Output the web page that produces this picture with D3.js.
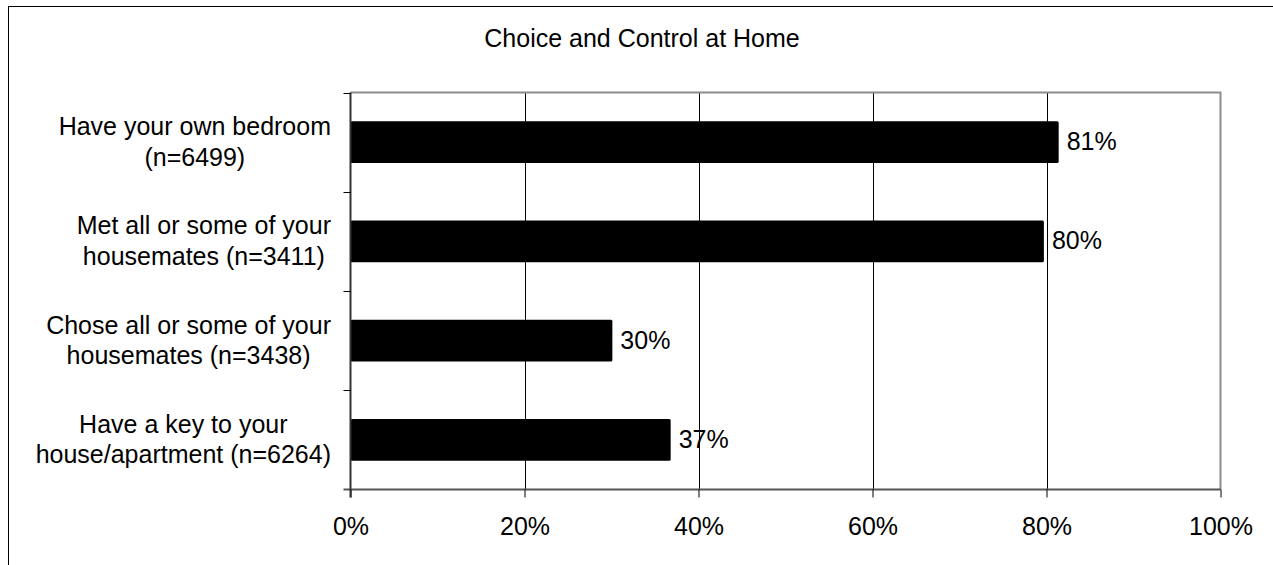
<!DOCTYPE html>
<html>
<head>
<meta charset="utf-8">
<script src="https://cdn.jsdelivr.net/npm/d3@7"></script>
<style>
  html, body { margin: 0; padding: 0; background: #fff; }
  svg { display: block; font-family: "Liberation Sans", Arial, sans-serif; }
</style>
</head>
<body>
<svg id="chart" width="1273" height="565"></svg>
<script>
const title = "Choice and Control at Home";
const categories = [
  ["Have your own bedroom", "(n=6499)"],
  ["Met all or some of your", "housemates (n=3411)"],
  ["Chose all or some of your", "housemates (n=3438)"],
  ["Have a key to your", "house/apartment (n=6264)"]
];
const values = [81.4, 79.7, 30.1, 36.8];
const xTicks = [0, 20, 40, 60, 80, 100];

const svg = d3.select("#chart");
const fontSize = 25;

const plot = { left: 350.5, right: 1220.5, top: 92.5, bottom: 489.5 };

// outer frame
svg.append("rect")
  .attr("x", 8.5).attr("y", 6.5)
  .attr("width", 1400).attr("height", 700)
  .attr("fill", "none").attr("stroke", "#000").attr("stroke-width", 1);

// title
svg.append("text")
  .attr("x", 642).attr("y", 47)
  .attr("text-anchor", "middle")
  .attr("font-size", fontSize)
  .attr("fill", "#000")
  .text(title);

const x = d3.scaleLinear().domain([0, 100]).range([plot.left, plot.right]);
const y = d3.scaleBand().domain(d3.range(categories.length))
  .range([plot.top, plot.bottom]).padding(0);

// gridlines
svg.append("g").selectAll("line")
  .data(xTicks.filter(t => t > 0 && t < 100))
  .join("line")
  .attr("x1", d => Math.round(x(d)) + 0.5).attr("x2", d => Math.round(x(d)) + 0.5)
  .attr("y1", plot.top).attr("y2", plot.bottom)
  .attr("stroke", "#000").attr("stroke-width", 1);

// plot border (top and right)
svg.append("path")
  .attr("d", `M${plot.left},${plot.top}H${plot.right}V${plot.bottom}`)
  .attr("fill", "none").attr("stroke", "#8c8c8c").attr("stroke-width", 2);

// bars
const barH = y.bandwidth() * 0.42;
svg.append("g").selectAll("rect")
  .data(values)
  .join("rect")
  .attr("x", x(0))
  .attr("y", (d, i) => y(i) + (y.bandwidth() - barH) / 2)
  .attr("width", d => x(d) - x(0))
  .attr("height", barH)
  .attr("rx", 1.5)
  .attr("fill", "#000");

// value labels
svg.append("g").selectAll("text")
  .data(values)
  .join("text")
  .attr("x", d => x(d) + 8)
  .attr("y", (d, i) => y(i) + y.bandwidth() / 2 + 8)
  .attr("font-size", fontSize)
  .attr("fill", "#000")
  .text(d => Math.round(d) + "%");

// x axis
const xAxis = d3.axisBottom(x)
  .tickValues(xTicks)
  .tickFormat(d => d + "%")
  .tickSize(8)
  .tickPadding(20);
const gx = svg.append("g")
  .attr("transform", `translate(0,${plot.bottom})`)
  .call(xAxis);
gx.select(".domain").attr("stroke", "#555").attr("stroke-width", 2)
  .attr("d", `M${plot.left - 7},0H${plot.right}`);
gx.selectAll(".tick line").attr("stroke", "#000");
gx.selectAll(".tick text")
  .attr("font-size", fontSize)
  .attr("font-family", "'Liberation Sans', Arial, sans-serif")
  .attr("fill", "#000");

// y axis line and ticks at band boundaries
const gy = svg.append("g");
gy.append("line")
  .attr("x1", plot.left).attr("x2", plot.left)
  .attr("y1", plot.top).attr("y2", plot.bottom + 8)
  .attr("stroke", "#333").attr("stroke-width", 2);
const boundaries = d3.range(categories.length).map(i => y(i));
gy.selectAll("line.tk")
  .data(boundaries)
  .join("line").attr("class", "tk")
  .attr("x1", plot.left - 7).attr("x2", plot.left)
  .attr("y1", d => Math.round(d) + 0.5).attr("y2", d => Math.round(d) + 0.5)
  .attr("stroke", "#000").attr("stroke-width", 1);

// category labels: block right-aligned, lines centered in block
const labelRight = 331;
const measure = svg.append("text").attr("font-size", fontSize).attr("visibility", "hidden");
categories.forEach((lines, i) => {
  const widths = lines.map(l => { measure.text(l); return measure.node().getComputedTextLength(); });
  const maxW = d3.max(widths);
  const cx = labelRight - maxW / 2;
  const cy = y(i) + y.bandwidth() / 2;
  const t = svg.append("text")
    .attr("text-anchor", "middle")
    .attr("font-size", fontSize)
    .attr("fill", "#000");
  lines.forEach((l, j) => {
    t.append("tspan")
      .attr("x", cx)
      .attr("y", cy - 7 + j * 30.5)
      .text(l);
  });
});
measure.remove();
</script>
</body>
</html>
